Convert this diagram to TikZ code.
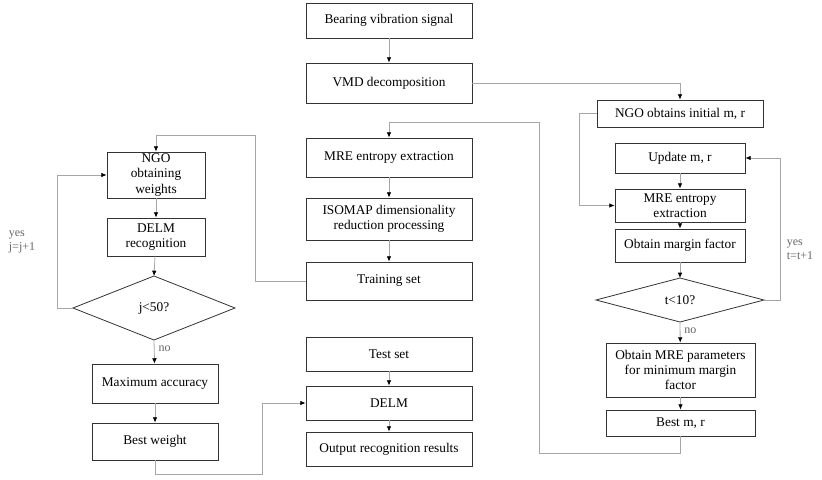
\documentclass[tikz,border=0pt]{standalone}
\usepackage{fontspec}
\setmainfont{Liberation Serif}
\usetikzlibrary{arrows.meta,shapes.geometric}
\begin{document}
\begin{tikzpicture}[x=0.75pt,y=-0.75pt,
  box/.style={draw=black!80,line width=0.6pt,align=center,font=\fontsize{10}{11.5}\selectfont,inner sep=1pt},
  con/.style={draw=black!35,line width=0.6pt,-{Latex[length=4pt,width=3.5pt,black]}},
  lbl/.style={font=\fontsize{9}{10.5}\selectfont,text=black!60,align=left,inner sep=0pt}]
\useasboundingbox (0,0) rectangle (822,479);
\newcommand{\bx}[6]{\node[box,minimum width={(#4-#2)*0.75pt},minimum height={(#5-#3)*0.75pt}] (#1) at ({(#2+#4)/2},{(#3+#5)/2}) {#6};}
% center
\bx{bvs}{306}{3}{472}{38}{Bearing vibration signal}
\bx{vmd}{306}{63}{472}{103}{VMD decomposition}
\bx{mre}{306}{138}{472}{177}{MRE entropy extraction}
\bx{iso}{306}{198}{472}{240}{ISOMAP dimensionality\\reduction processing}
\bx{train}{306}{262}{472}{300}{Training set}
\bx{test}{306}{337}{472}{371}{Test set}
\bx{delm}{306}{386}{472}{420}{DELM}
\bx{out}{306}{432}{472}{466}{Output recognition results}
% left
\bx{ngow}{107}{152}{205}{198}{NGO\\obtaining\\weights}
\bx{delmr}{107}{218}{205}{256}{DELM\\recognition}
\draw[draw=black!80,line width=0.6pt] (73,308) -- (154,276) -- (235,308) -- (154,340) -- cycle;
\node[font=\fontsize{10}{11.5}\selectfont] (jd) at (154,308) {j<50?};
\coordinate (jl) at (73,308); \coordinate (jb) at (154,340); \coordinate (jt) at (154,276);
\bx{maxa}{92}{364}{218}{403}{Maximum accuracy}
\bx{bw}{92}{423}{218}{460}{Best weight}
% right
\bx{ngoi}{597}{100}{763}{127}{NGO obtains initial m, r}
\bx{upd}{615}{143}{745}{173}{Update m, r}
\bx{mrer}{615}{189}{745}{222}{MRE entropy\\extraction}
\bx{omf}{615}{229}{745}{262}{Obtain margin factor}
\draw[draw=black!80,line width=0.6pt] (596,300) -- (680,278) -- (764,300) -- (680,322) -- cycle;
\node[font=\fontsize{10}{11.5}\selectfont] (td) at (680,300) {t<10?};
\coordinate (tl) at (596,300); \coordinate (tr) at (764,300); \coordinate (tb) at (680,322); \coordinate (tt) at (680,278);
\bx{omp}{606}{343}{755}{397}{Obtain MRE parameters\\for minimum margin\\factor}
\bx{bmr}{606}{410}{755}{436}{Best m, r}
% connectors
\draw[con] (bvs) -- (vmd);
\draw[con] (mre) -- (iso);
\draw[con] (iso) -- (train);
\draw[con] (test) -- (delm);
\draw[con] (delm) -- (out);
\draw[con] (vmd.east) -| (ngoi.north);
\draw[con] (ngoi.west) -- ++(-17,0) |- (mrer.west);
\draw[con] (bmr.south) -- ++(0,17) -| (539,122) -| (mre.north);
\draw[con] (train.west) -| (255,135) -| (ngow.north);
\draw[con] (ngow) -- (delmr);
\draw[con] (delmr) -- (jt);
\draw[con] (jl) -| (57,175) -- (ngow.west |- 0,175);
\draw[con] (jb) -- (maxa) node[lbl,pos=0.35,right=3pt] {no};
\draw[con] (maxa) -- (bw);
\draw[con] (bw.south) -- ++(0,14) -| (262,403) -- (delm.west);
\draw[con] (upd) -- (mrer);
\draw[con] (mrer) -- (omf);
\draw[con] (omf) -- (tt);
\draw[con] (tr) -- (780,300) |- (upd.east);
\draw[con] (tb) -- (omp) node[lbl,pos=0.4,right=3pt] {no};
\draw[con] (omp) -- (bmr);
\node[lbl] (yl) at (22,242) {yes\\j=j+1};
\node[lbl] (yr) at (800,250) {yes\\t=t+1};
\end{tikzpicture}
\end{document}
